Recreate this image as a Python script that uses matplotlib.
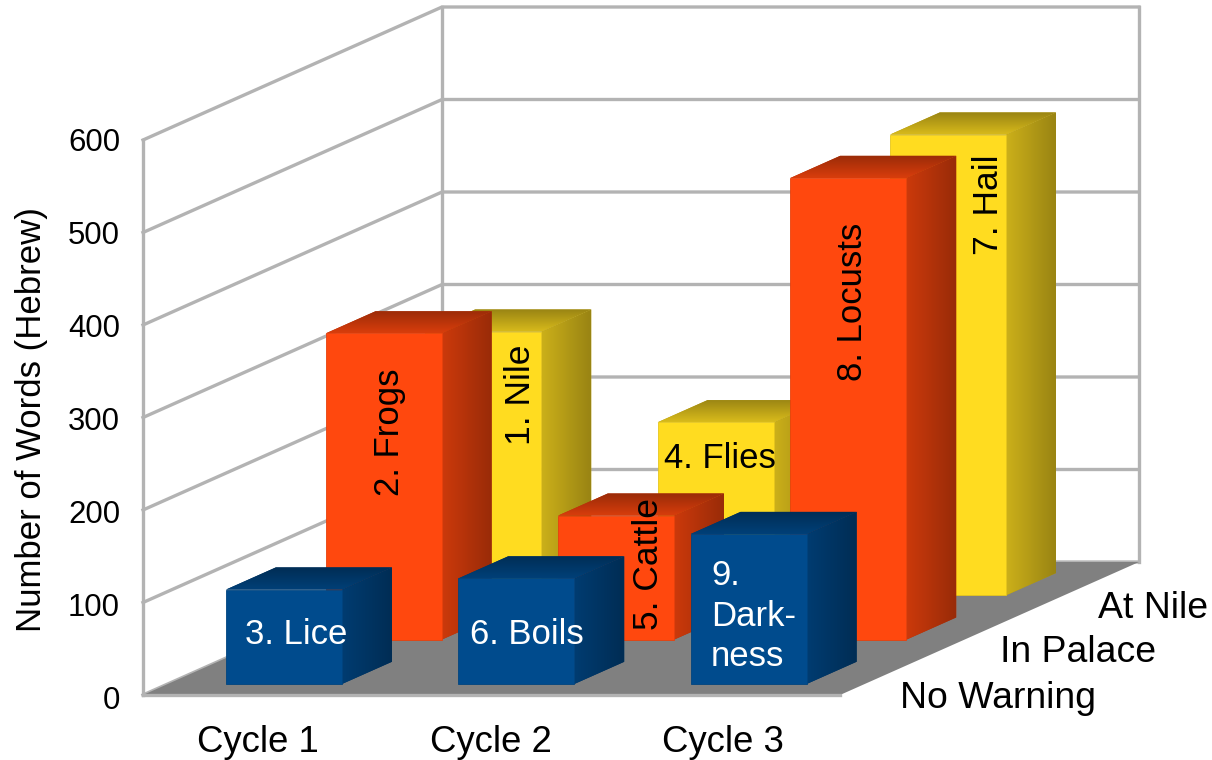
import numpy as np
import matplotlib
matplotlib.use("Agg")
import matplotlib.pyplot as plt
from matplotlib.patches import Polygon
from matplotlib.transforms import Affine2D

plt.rcParams['font.family'] = ['Liberation Sans', 'DejaVu Sans']

cycles = ["Cycle 1", "Cycle 2", "Cycle 3"]
rows = ["No Warning", "In Palace", "At Nile"]
value_ticks = [0, 100, 200, 300, 400, 500, 600]

no_warning = [102, 114, 162]
in_palace = [331, 134, 499]
at_nile = [285, 187, 498]

row_colors = ["#004b8d", "#ff480e", "#ffdc20"]

W, H = 1212, 760
X0, Y0 = 143, 695.0      # pixel position of category 0, value 0, depth 0
PX_CAT, PX_VAL = 232.33, 0.925
DX, DY = 299, 133        # pixel shift across the whole depth

fig = plt.figure(figsize=(W / 100, H / 100), dpi=100)
ax = fig.add_axes([0, 0, 1, 1])
xlim = (-X0 / PX_CAT, (W - X0) / PX_CAT)
ylim = ((Y0 - H) / PX_VAL, Y0 / PX_VAL)
ax.set_xlim(xlim)
ax.set_ylim(ylim)
ax.set_axis_off()
px = Affine2D().scale(1 / W, -1 / H).translate(0, 1) + fig.transFigure


def P(x, v, d):
    return x + d * DX / PX_CAT, v + d * DY / PX_VAL


# walls
GRID = "#b3b3b3"
n = len(cycles)
top = value_ticks[-1]
for v in value_ticks:
    pts = [P(0, v, 0), P(0, v, 1), P(n, v, 1)]
    ax.plot(*zip(*pts), color=GRID, lw=2.4, solid_joinstyle="miter", zorder=1)
ax.plot(*zip(P(0, 0, 0), P(0, top, 0)), color=GRID, lw=2.4, zorder=1)
ax.plot(*zip(P(0, 0, 1), P(0, top, 1)), color=GRID, lw=2.4, zorder=1)
ax.plot(*zip(P(n, 0, 1), P(n, top, 1)), color=GRID, lw=2.4, zorder=1)

# floor
ax.add_patch(Polygon([P(0, 0, 0), P(n, 0, 0), P(n, 0, 1), P(0, 0, 1)],
                     closed=True, fc="#808080", ec="none", zorder=2))
ax.plot(*zip(P(0, 0, 0), P(n, 0, 0)), color=GRID, lw=2.4, zorder=2.1)


def shade(color, f):
    return tuple(c * f for c in matplotlib.colors.to_rgb(color))


def gradient_face(pts, color, f0, f1, horizontal, z):
    poly = Polygon(pts, closed=True, fc=shade(color, (f0 + f1) / 2), ec="none", zorder=z)
    ax.add_patch(poly)
    xs, ys = zip(*pts)
    g = np.linspace(f0, f1, 64)
    rgb = np.array(matplotlib.colors.to_rgb(color))
    img = g[:, None] * rgb
    img = img[None, :, :] if horizontal else img[:, None, :]
    im = ax.imshow(img, extent=(min(xs), max(xs), min(ys), max(ys)), origin="lower",
                   aspect="auto", interpolation="bilinear", zorder=z + 0.01)
    im.set_clip_path(poly)


z = 3.0
series = [no_warning, in_palace, at_nile]
for r in [2, 1, 0]:
    for c in range(n):
        v = series[r][c]
        col = row_colors[r]
        x0, x1 = c + 0.25, c + 0.75
        d0, d1 = (r + 0.25) / n, (r + 0.75) / n
        gradient_face([P(x1, 0, d0), P(x1, 0, d1), P(x1, v, d1), P(x1, v, d0)],
                      col, 0.8, 0.6, True, z)
        gradient_face([P(x0, v, d0), P(x1, v, d0), P(x1, v, d1), P(x0, v, d1)],
                      col, 0.85, 0.6, False, z + 0.1)
        ax.add_patch(Polygon([P(x0, 0, d0), P(x1, 0, d0), P(x1, v, d0), P(x0, v, d0)],
                             closed=True, fc=col, ec=shade(col, 0.9), lw=0.6, zorder=z + 0.2))
        z += 0.3
ax.set_xlim(xlim)
ax.set_ylim(ylim)

TZ = 50


def T(x, y, s, fs=25, **kw):
    kw.setdefault("ha", "center")
    kw.setdefault("va", "center")
    ax.text(x, y, s, transform=px, fontsize=fs, zorder=TZ, **kw)


for v in value_ticks:
    T(120, 701 - v * 0.93, str(v), fs=22.4, ha="right")
T(32, 419.5, "Number of Words (Hebrew)", fs=25, rotation=90)
for c, name in enumerate(cycles):
    T(X0 + (c + 0.5) * PX_CAT - 1, 743, name, fs=26.3)
for (x, y), name in zip([(900, 698), (1000, 653), (1098, 608)], rows):
    T(x, y, name, fs=26.9, ha="left")

T(296, 634, "3. Lice", color="white")
T(527, 634, "6. Boils", color="white")
T(711, 616, "9.\nDark-\nness", color="white", ha="left", linespacing=1.27)
T(389, 432, "2. Frogs", rotation=90)
T(521, 395, "1. Nile", fs=25.5, rotation=90)
T(720, 458, "4. Flies")
T(648, 564, "5. Cattle", fs=25.5, rotation=90)
T(852, 302, "8. Locusts", rotation=90)
T(989, 205, "7. Hail", fs=25.5, rotation=90)

fig.savefig("out.png", dpi=100)
